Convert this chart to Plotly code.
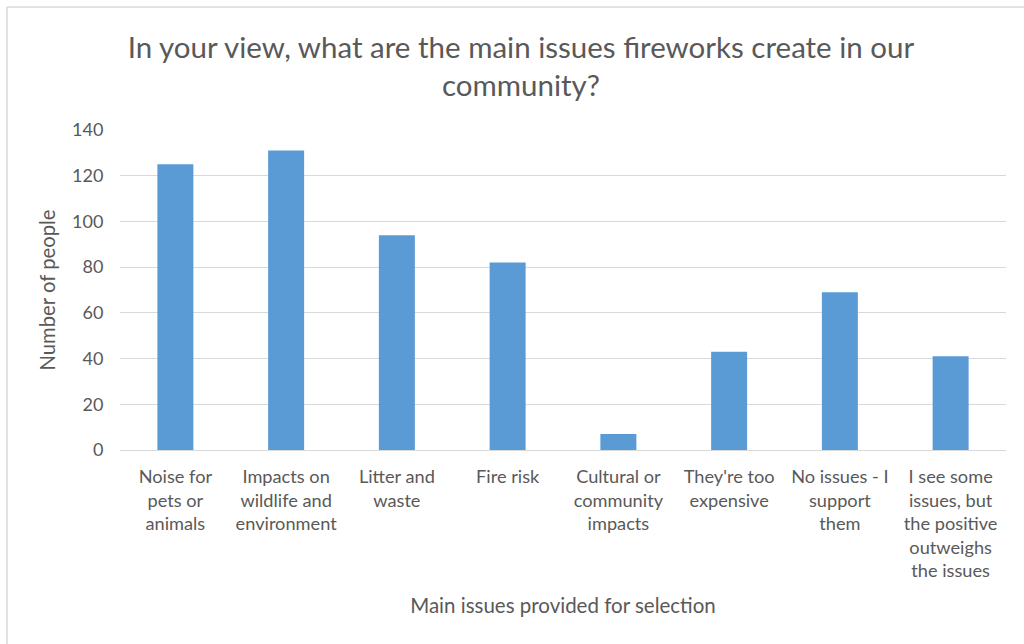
import plotly.graph_objects as go

categories = [
    "Noise for<br>pets or<br>animals",
    "Impacts on<br>wildlife and<br>environment",
    "Litter and<br>waste",
    "Fire risk",
    "Cultural or<br>community<br>impacts",
    "They're too<br>expensive",
    "No issues - I<br>support<br>them",
    "I see some<br>issues, but<br>the positive<br>outweighs<br>the issues",
]
counts = [125, 131, 94, 82, 7, 43, 69, 41]
y_ticks = [0, 20, 40, 60, 80, 100, 120, 140]

FONT = "Lato"
GREY = "#595959"

fig = go.Figure(go.Bar(x=categories, y=counts, marker=dict(color="#5b9bd5", line=dict(width=0))))

W, H = 1024, 644
L, R, T, B = 120, 18, 130, 194
pw, ph = W - L - R, H - T - B

def px_x(p):
    return (p - L) / pw

def px_y(p):
    return (H - B - p) / ph

fig.update_layout(
    width=W, height=H,
    margin=dict(l=L, r=R, t=T, b=B),
    paper_bgcolor="white", plot_bgcolor="white",
    bargap=0.675,
    showlegend=False,
    font=dict(family=FONT, color=GREY),
    title=dict(
        text="In your view, what are the main issues fireworks create in our<br>community?",
        x=521 / W, xref="container", xanchor="center",
        y=1 - 58 / H, yanchor="top",
        font=dict(size=29.5, family=FONT, color=GREY),
    ),
    xaxis=dict(
        showgrid=False, showline=True, linecolor="#d9d9d9", linewidth=1,
        tickfont=dict(size=18.2, family=FONT, color=GREY),
        ticks="outside", ticklen=10, tickcolor="rgba(0,0,0,0)",
        title=dict(text="Main issues provided for selection", font=dict(size=20.5, family=FONT, color=GREY), standoff=18),
    ),
    yaxis=dict(
        range=[0, 140], tickvals=y_ticks,
        showgrid=True, gridcolor="#d9d9d9", gridwidth=1,
        zeroline=False, showline=False,
        tickfont=dict(size=18, family=FONT, color=GREY),
        ticks="outside", ticklen=12, tickcolor="rgba(0,0,0,0)",
        title=dict(text="Number of people", font=dict(size=20.3, family=FONT, color=GREY), standoff=10),
    ),
    shapes=[
        dict(type="line", xref="paper", yref="paper", x0=px_x(7), x1=px_x(1030), y0=px_y(7), y1=px_y(7),
             line=dict(color="#d9d9d9", width=1.5)),
        dict(type="line", xref="paper", yref="paper", x0=px_x(7), x1=px_x(7), y0=px_y(7), y1=px_y(650),
             line=dict(color="#d9d9d9", width=1.5)),
    ],
)

fig.write_html("out.html")
